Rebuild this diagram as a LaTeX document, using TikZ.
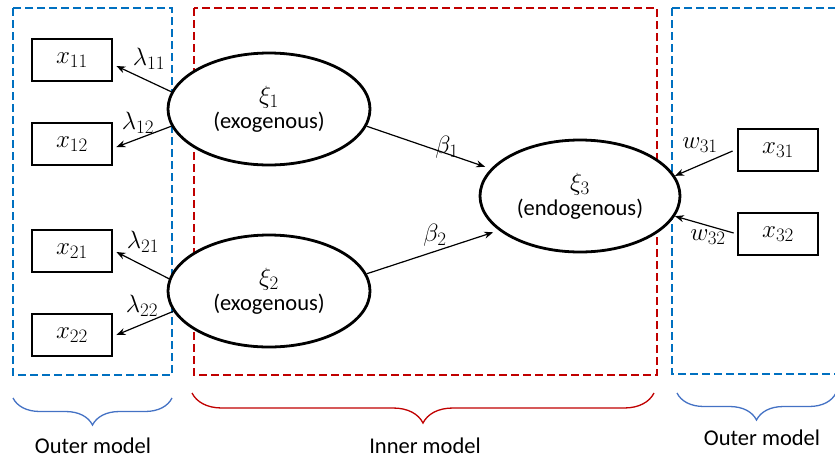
\documentclass[tikz,border=0pt]{standalone}
\usepackage{fix-cm}
\usepackage{fontspec}
\setmainfont{Carlito}
\DeclareMathSizes{22.5}{25}{19}{15}
\usetikzlibrary{arrows.meta,decorations.pathreplacing,shapes.geometric}
\definecolor{groupblue}{HTML}{0070C0}
\definecolor{groupred}{HTML}{C00000}
\definecolor{braceblue}{HTML}{4472C4}
\begin{document}
\begin{tikzpicture}[x=1pt,y=-1pt,
  every node/.style={font=\fontsize{22.5}{25}\selectfont},
  obs/.style={draw, line width=2.8pt, minimum width=80pt, minimum height=42pt, inner sep=0pt},
  lat/.style={ellipse, draw, fill=white, line width=2.8pt, minimum width=202pt, minimum height=112pt, inner sep=0pt, align=center},
  arr/.style={line width=1.2pt, -{Stealth[length=9pt,width=7pt]}},
  grp/.style={line width=2.8pt, dash pattern=on 8pt off 4pt},
  brc/.style={decorate, decoration={brace, mirror, amplitude=#1}, line width=1.3pt},
  coef/.style={inner sep=0pt}]
\useasboundingbox (0,0) rectangle (835,459);

% model groups
\draw[grp, groupblue] (13,8) rectangle (172,375);
\draw[grp, groupred] (194,8) rectangle (657,375);
\draw[grp, groupblue] (672,8) rectangle (850,374);

% indicators
\node[obs] (x11) at (72,60) {$x_{11}$};
\node[obs] (x12) at (72,144) {$x_{12}$};
\node[obs] (x21) at (72,251) {$x_{21}$};
\node[obs] (x22) at (72,335) {$x_{22}$};
\node[obs] (x31) at (778,150) {$x_{31}$};
\node[obs] (x32) at (778,234) {$x_{32}$};

% latent variables
\node[lat] (xi1) at (269,109) {$\xi_1$\\(exogenous)};
\node[lat] (xi2) at (269,291) {$\xi_2$\\(exogenous)};
\node[lat, minimum width=200pt] (xi3) at (580,196) {$\xi_3$\\(endogenous)};

% outer (reflective) paths
\draw[arr] (xi1.170) -- ([xshift=3pt,yshift=-6pt]x11.east);
\draw[arr] (xi1.190) -- ([xshift=3pt,yshift=-3pt]x12.east);
\draw[arr] (xi2.173) -- ([xshift=3pt,yshift=-1pt]x21.east);
\draw[arr] (xi2.192) -- ([xshift=3pt]x22.east);

% inner paths
\draw[arr, shorten >=6pt] (xi1.350) -- (xi3.163);
\draw[arr, shorten >=6pt] (xi2.10) -- (xi3.203);

% outer (formative) paths
\draw[arr] ([xshift=-4pt,yshift=-1pt]x31.west) -- (xi3.12);
\draw[arr] ([xshift=-3pt,yshift=1pt]x32.west) -- (xi3.-12);

% coefficients
\node[coef] (l11) at (149,59) {$\lambda_{11}$};
\node[coef] (l12) at (138,123) {$\lambda_{12}$};
\node[coef] (l21) at (143,242) {$\lambda_{21}$};
\node[coef] (l22) at (142,306) {$\lambda_{22}$};
\node[coef] (b1) at (447,147) {$\beta_1$};
\node[coef] (b2) at (435,235) {$\beta_2$};
\node[coef] (w31) at (700,145) {$w_{31}$};
\node[coef] (w32) at (708,237) {$w_{32}$};

% braces and captions
\coordinate (lbA) at (13,398);
\coordinate (lbB) at (172,398);
\coordinate (ibA) at (192,393);
\coordinate (ibB) at (654,393);
\coordinate (rbA) at (677,393);
\coordinate (rbB) at (836,393);
\draw[brc=27pt, braceblue] (lbA) -- (lbB);
\draw[brc=30pt, groupred] (ibA) -- (ibB);
\draw[brc=27pt, braceblue] (rbA) -- (rbB);
\node (outerL) at (93,446) {Outer model};
\node (inner) at (425,446) {Inner model};
\node (outerR) at (762,438) {Outer model};
\end{tikzpicture}
\end{document}
